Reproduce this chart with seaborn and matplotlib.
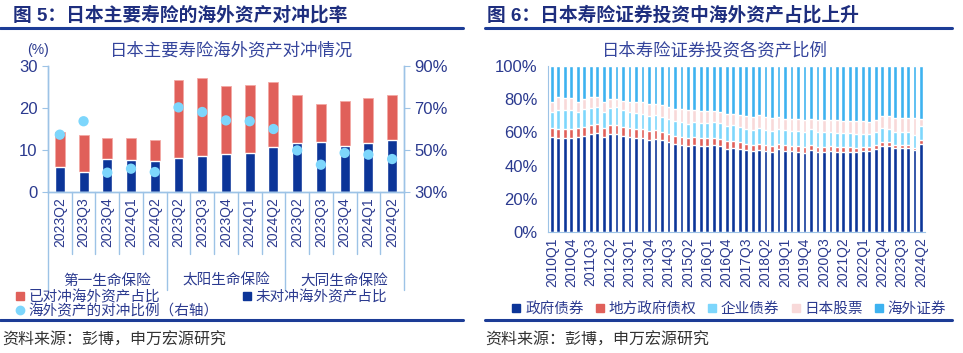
import numpy as np
import pandas as pd
import seaborn as sns
import matplotlib.pyplot as plt
from matplotlib.lines import Line2D
from matplotlib.ticker import FuncFormatter

sns.set_style("white")
plt.rcParams['font.family'] = ['Liberation Sans', 'Noto Sans CJK SC', 'DejaVu Sans']

# ---- 图5 数据 ----
companies = ["第一生命保险", "太阳生命保险", "大同生命保险"]
quarters_l = ["2023Q2", "2023Q3", "2023Q4", "2024Q1", "2024Q2"]
unhedged = [6.0, 4.8, 7.8, 7.7, 7.5,
            8.0, 8.6, 9.0, 9.2, 10.6,
            11.7, 12.0, 11.0, 11.7, 12.5]
hedged = [8.3, 8.7, 5.1, 5.2, 5.0,
          18.7, 18.5, 16.2, 16.2, 15.7,
          11.5, 9.0, 10.7, 10.7, 10.6]
hedge_ratio = [57.3, 63.7, 39.2, 41.1, 39.5,
               70.3, 68.1, 64.1, 63.7, 60.0,
               49.8, 43.0, 48.6, 47.8, 45.7]

# ---- 图6 数据 ----
asset_quarters = [f"{y}Q{q}" for y in range(2010, 2025) for q in range(1, 5)][:58]
gov_bond = [57.1, 56.7, 56.7, 56.9, 57.1, 57.7, 59.0, 59.4, 57.1, 59.0,
            58.8, 57.7, 57.1, 56.7, 56.5, 55.5, 55.9, 55.3, 54.1, 52.9,
            52.5, 51.7, 52.3, 51.7, 51.7, 52.3, 51.5, 50.1, 50.7, 49.9,
            49.3, 48.9, 49.5, 48.9, 48.3, 49.7, 48.9, 48.5, 48.3, 47.7,
            49.3, 48.3, 48.3, 48.5, 48.3, 48.3, 48.1, 48.3, 48.5, 48.7,
            50.1, 51.9, 51.9, 50.3, 50.5, 50.5, 49.3, 53.3]
local_bond = [5.3, 5.1, 5.1, 4.9, 5.3, 5.3, 5.2, 5.4, 5.3, 5.2,
              5.6, 5.3, 5.3, 5.5, 5.5, 5.5, 5.3, 4.9, 4.9, 4.8,
              4.6, 5.0, 4.8, 4.8, 4.8, 4.6, 4.6, 4.8, 4.2, 4.2,
              4.0, 3.8, 3.8, 3.8, 3.6, 3.4, 3.6, 3.2, 3.4, 3.2,
              3.4, 3.0, 3.0, 3.0, 3.0, 2.8, 3.0, 2.4, 2.6, 2.2,
              2.0, 2.2, 2.2, 2.0, 1.8, 1.8, 1.4, 2.2]
corp_bond = [9.8, 11.6, 11.6, 11.6, 9.8, 10.8, 10.6, 10.7, 9.8, 10.6,
             10.7, 10.4, 9.8, 9.6, 9.2, 9.0, 9.2, 9.2, 9.0, 8.9,
             9.1, 8.3, 9.1, 8.9, 9.3, 9.5, 9.3, 8.9, 9.3, 8.9,
             8.7, 8.7, 9.1, 8.5, 8.7, 8.7, 8.7, 9.3, 9.1, 9.1,
             9.1, 9.1, 9.1, 8.7, 8.1, 8.3, 8.3, 8.3, 8.1, 8.3,
             8.3, 8.3, 8.1, 8.1, 7.9, 7.7, 7.7, 8.3]
jp_stock = [6.3, 7.7, 7.1, 7.1, 6.3, 6.1, 6.3, 5.6, 6.3, 5.5,
            5.2, 5.5, 6.3, 6.7, 7.1, 7.3, 6.7, 6.9, 7.3, 7.6,
            7.8, 8.4, 7.2, 7.4, 6.8, 6.4, 6.8, 7.2, 6.8, 7.4,
            7.8, 8.0, 7.8, 7.8, 8.0, 7.2, 7.0, 7.0, 7.0, 7.4,
            6.2, 6.8, 7.0, 7.2, 8.0, 7.6, 7.6, 7.8, 7.4, 7.2,
            7.0, 7.2, 7.4, 8.2, 8.2, 8.4, 10.0, 4.2]
foreign_sec = [21.5, 18.9, 19.5, 19.5, 21.5, 20.1, 18.9, 18.9, 21.5, 19.7,
               19.7, 21.1, 21.5, 21.5, 21.7, 22.7, 22.9, 23.7, 24.7, 25.8,
               26.0, 26.6, 26.6, 27.2, 27.4, 27.2, 27.8, 29.0, 29.0, 29.6,
               30.2, 30.6, 29.8, 31.0, 31.4, 31.0, 31.8, 32.0, 32.2, 32.6,
               32.0, 32.8, 32.6, 32.6, 32.6, 33.0, 33.0, 33.2, 33.4, 33.6,
               32.6, 30.4, 30.4, 31.4, 31.6, 31.6, 31.6, 32.0]
asset_names = ["政府债券", "地方政府债权", "企业债券", "日本股票", "海外证券"]

# ---- 颜色 ----
NAVY = '#0C3598'
RED = '#E0605A'
SKY = '#7DD6FC'
PINK = '#F8D9D9'
BLUE = '#3DB2F0'
AXIS = '#9DC3E6'
TXT = '#2B3A8F'
TITLE = '#1E2E7E'
LINE = '#1C3C96'

fig = plt.figure(figsize=(9.63, 3.53), dpi=100)

# ===================== 图5 =====================
df_l = pd.DataFrame({
    "company": np.repeat(companies, len(quarters_l)),
    "quarter": quarters_l * len(companies),
    "unhedged": unhedged,
    "hedged": hedged,
    "ratio": hedge_ratio,
})
df_l["pos"] = np.arange(len(df_l))
df_l["total"] = df_l["unhedged"] + df_l["hedged"]
n = len(df_l)

ax1 = fig.add_axes([0.0498, 0.4561, 0.3697, 0.3569])
sns.barplot(data=df_l, x="pos", y="total", color=RED, width=0.42, saturation=1,
            edgecolor='#F3A9A4', linewidth=0.6, ax=ax1)
sns.barplot(data=df_l, x="pos", y="unhedged", color=NAVY, width=0.42, saturation=1,
            ax=ax1)
ax1.set_ylim(0, 30)
ax1.set_yticks([0, 10, 20, 30])
ax1.set_xticks(range(n))
ax1.set_xticklabels(df_l["quarter"], rotation=90, fontsize=10, color=TXT)
ax1.set_xlabel("")
ax1.set_ylabel("")
ax1.tick_params(axis='y', labelsize=12, colors=TXT, length=4, color=AXIS, direction='out')
ax1.tick_params(axis='x', length=0, pad=4)

ax2 = ax1.twinx()
sns.scatterplot(data=df_l, x="pos", y="ratio", color=SKY, s=55, edgecolor='none',
                ax=ax2, zorder=5)
ax2.set_ylim(30, 90)
ax2.set_yticks([30, 50, 70, 90])
ax2.yaxis.set_major_formatter(FuncFormatter(lambda v, p: f"{v:.0f}%"))
ax2.set_ylabel("")
ax2.tick_params(axis='y', labelsize=12, colors=TXT, length=4, color=AXIS, direction='out')
ax1.set_xlim(-0.5, n - 0.5)

for a in (ax1, ax2):
    a.spines['top'].set_visible(False)
    for s in ('left', 'right', 'bottom'):
        a.spines[s].set_color(AXIS)
        a.spines[s].set_linewidth(1)
    a.grid(False)

# 分类分隔线与公司名称
trans = ax1.get_xaxis_transform()
for b in np.arange(-0.5, n, 1):
    depth = -0.78 if (b + 0.5) % len(quarters_l) == 0 else -0.49
    ax1.plot([b, b], [0, depth], color=AXIS, lw=1, transform=trans, clip_on=False)
for i, c in enumerate(companies):
    center = i * len(quarters_l) + (len(quarters_l) - 1) / 2
    ax1.text(center, -0.705, c, transform=trans, ha='center', va='center',
             fontsize=10.5, color=TXT)

handles_l = [
    Line2D([], [], marker='s', ls='none', color=RED, markersize=6),
    Line2D([], [], marker='o', ls='none', color=SKY, markersize=6),
    Line2D([], [], marker='s', ls='none', color=NAVY, markersize=6),
]
labels_l = ["已对冲海外资产占比", "海外资产的对冲比例（右轴）", "未对冲海外资产占比"]
fig.legend(handles_l, labels_l, loc='upper left', bbox_to_anchor=(0.015, 1 - 290 / 353),
           ncol=2, frameon=False, fontsize=10.5, handlelength=0.7, handletextpad=0.25,
           columnspacing=1.6, labelspacing=0.0, borderaxespad=0, borderpad=0,
           labelcolor=TXT)

fig.text(0.039, 1 - 50 / 353, "(%)", fontsize=10, color=TXT, ha='center', va='center')
fig.text(0.24, 1 - 50 / 353, "日本主要寿险海外资产对冲情况", fontsize=12.5, color='#34449C',
         ha='center', va='center')

# ===================== 图6 =====================
ax3 = fig.add_axes([0.569, 0.3428, 0.3915, 0.4703])
stack = np.array([gov_bond, local_bond, corp_bond, jp_stock, foreign_sec])
levels = np.cumsum(stack, axis=0)
colors_r = [NAVY, RED, SKY, PINK, BLUE]
for k in range(len(asset_names) - 1, -1, -1):
    sns.barplot(x=asset_quarters, y=levels[k], color=colors_r[k], width=0.58,
                saturation=1, ax=ax3)
ax3.set_ylim(0, 100)
ax3.set_yticks(range(0, 101, 20))
ax3.yaxis.set_major_formatter(FuncFormatter(lambda v, p: f"{v:.0f}%"))
ax3.set_xticks(range(0, len(asset_quarters), 3))
ax3.set_xticklabels(asset_quarters[::3], rotation=90, fontsize=10, color=TXT)
ax3.set_xticks(np.arange(-0.5, len(asset_quarters) - 1, 3), minor=True)
ax3.tick_params(axis='x', which='major', length=0, pad=4)
ax3.tick_params(axis='x', which='minor', length=4, color=AXIS, direction='out')
ax3.tick_params(axis='y', labelsize=12, colors=TXT, length=4, color=AXIS, direction='out')
ax3.set_xlim(-0.6, len(asset_quarters) - 0.4)
ax3.set_xlabel("")
ax3.set_ylabel("")
sns.despine(ax=ax3)
for s in ('left', 'bottom'):
    ax3.spines[s].set_color(AXIS)
ax3.grid(False)

handles_r = [Line2D([], [], marker='s', ls='none', color=c, markersize=6) for c in colors_r]
fig.legend(handles_r, asset_names, loc='center left', bbox_to_anchor=(0.531, 1 - 309 / 353),
           ncol=5, frameon=False, fontsize=10.5, handlelength=0.7, handletextpad=0.25,
           columnspacing=0.75, borderaxespad=0, borderpad=0, labelcolor=TXT)

fig.text(0.742, 1 - 50 / 353, "日本寿险证券投资各资产比例", fontsize=12.5, color='#34449C',
         ha='center', va='center')

# ===================== 标题、分隔线、来源 =====================
fig.text(0.013, 1 - 15 / 353, "图 5：日本主要寿险的海外资产对冲比率", fontsize=13.5,
         fontweight='bold', color=TITLE, ha='left', va='center')
fig.text(0.506, 1 - 15 / 353, "图 6：日本寿险证券投资中海外资产占比上升", fontsize=13.5,
         fontweight='bold', color=TITLE, ha='left', va='center')
for x0, x1 in [(0.0, 463 / 963), (485 / 963, 952 / 963)]:
    for y in (1 - 27.5 / 353, 1 - 320 / 353):
        fig.add_artist(Line2D([x0, x1], [y, y], color=LINE, lw=2.2,
                              transform=fig.transFigure))
fig.text(0.002, 1 - 340 / 353, "资料来源：彭博，申万宏源研究", fontsize=11.5, color='#333333',
         ha='left', va='center')
fig.text(0.504, 1 - 340 / 353, "资料来源：彭博，申万宏源研究", fontsize=11.5, color='#333333',
         ha='left', va='center')

fig.savefig("out.png", dpi=100)
